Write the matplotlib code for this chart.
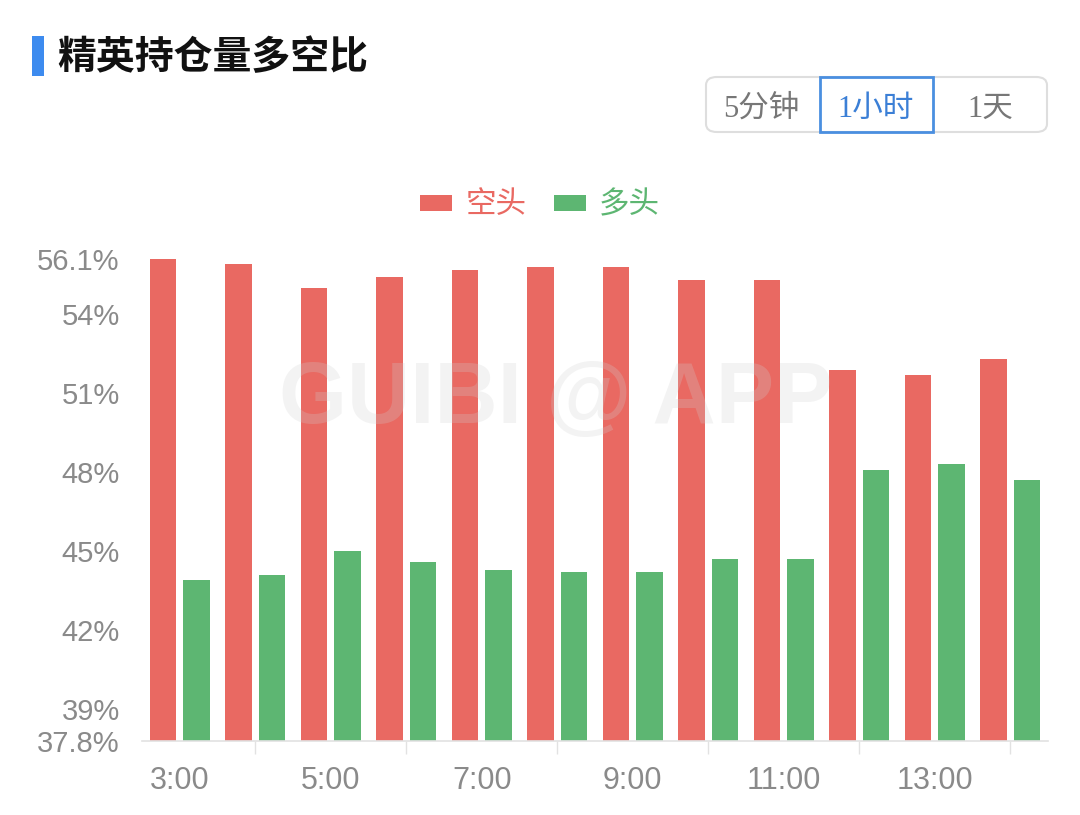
import matplotlib
matplotlib.use("Agg")
import numpy as np
import matplotlib.pyplot as plt
from matplotlib.patches import FancyBboxPatch, Rectangle
from matplotlib.ticker import FixedLocator

# --- data ---------------------------------------------------------------------
HOURS = ["3:00", "4:00", "5:00", "6:00", "7:00", "8:00", "9:00", "10:00",
         "11:00", "12:00", "13:00", "14:00"]
SHORT = [56.1, 55.9, 55.0, 55.4, 55.7, 55.8, 55.8, 55.3, 55.3, 51.9, 51.7, 52.3]
LONG = [43.9, 44.1, 45.0, 44.6, 44.3, 44.2, 44.2, 44.7, 44.7, 48.1, 48.3, 47.7]
Y_TICKS = [37.8, 39, 42, 45, 48, 51, 54, 56.1]
Y_LABELS = ["37.8%", "39%", "42%", "45%", "48%", "51%", "54%", "56.1%"]
BUTTONS = ["5分钟", "1小时", "1天"]

RED = "#e96962"
GREEN = "#5db672"
GREY_TXT = "#8a8a8a"
BLUE = "#3d8bef"

W, H = 1080, 815
CJK = ["Noto Sans CJK SC", "DejaVu Sans"]
NUM = ["Liberation Sans", "DejaVu Sans"]


def fx(px):
    return px / W


def fy(py):
    return 1 - py / H


fig = plt.figure(figsize=(W / 100, H / 100), dpi=100)
fig.patch.set_facecolor("white")

# --- header: title with blue marker -----------------------------------------
fig.patches.append(Rectangle((fx(32), fy(76)), fx(12), 40 / H, transform=fig.transFigure,
                             facecolor=BLUE, edgecolor="none"))
fig.text(fx(57), fy(58), "精英持仓量多空比", family=CJK, fontsize=28,
         fontweight="bold", color="#111111", va="center", ha="left")

# --- period selector ---------------------------------------------------------
fig.patches.append(FancyBboxPatch((fx(706), fy(132)), fx(341), 55 / H,
                                  boxstyle="round,pad=0,rounding_size=0.01",
                                  transform=fig.transFigure, facecolor="white",
                                  edgecolor="#dedede", lw=1.5))
fig.patches.append(Rectangle((fx(820), fy(132)), fx(113), 55 / H,
                             transform=fig.transFigure, facecolor="none",
                             edgecolor="#4a8fe0", lw=2))
for label, cx in zip(BUTTONS, [761, 876, 990]):
    active = label == "1小时"
    fig.text(fx(cx), fy(109), label, family=["Liberation Serif", "Noto Sans CJK SC"],
             fontsize=22, color="#3b7fd6" if active else "#777777",
             ha="center", va="center")

# --- bars --------------------------------------------------------------------
ax = fig.add_axes([fx(142), fy(741), fx(1048 - 142), (741 - 259) / H])
x = np.arange(len(HOURS))
bw = 0.345
off = 0.222
b1 = ax.bar(x - off, SHORT, bw, color=RED, label="空头", zorder=2)
b2 = ax.bar(x + off, LONG, bw, color=GREEN, label="多头", zorder=2)

ax.set_xlim(-0.5, len(HOURS) - 0.5)
ax.set_ylim(Y_TICKS[0], Y_TICKS[-1])
ax.set_yticks(Y_TICKS)
ax.set_yticklabels(Y_LABELS, family=NUM, fontsize=21, color=GREY_TXT)
ax.tick_params(axis="y", length=0, pad=16)

ax.set_xticks(x[::2])
ax.set_xticklabels(HOURS[::2], family=NUM, fontsize=22, color=GREY_TXT)
ax.tick_params(axis="x", which="major", length=0, pad=18)
ax.xaxis.set_minor_locator(FixedLocator(x[1::2]))
ax.tick_params(axis="x", which="minor", length=9, width=1, color="#e2e2e2")

for s in ["top", "right", "left"]:
    ax.spines[s].set_visible(False)
ax.spines["bottom"].set_color("#e2e2e2")
ax.spines["bottom"].set_linewidth(1.2)

# --- legend ------------------------------------------------------------------
leg = fig.legend(handles=[b1, b2], loc="center", ncol=2, frameon=False,
                 bbox_to_anchor=(fx(540), fy(205)),
                 prop={"family": CJK, "size": 22},
                 handlelength=1.05, handleheight=0.42, handletextpad=0.42,
                 columnspacing=0.9)
for t, c in zip(leg.get_texts(), [RED, GREEN]):
    t.set_color(c)

# --- watermark -----------------------------------------------------------------
fig.text(fx(556), fy(400), "GUIBI @ APP", family=NUM, fontweight="bold",
         fontsize=63, color="#d0d0d0", alpha=0.25, ha="center", va="center",
         zorder=10)

fig.savefig("out.png", dpi=100)
